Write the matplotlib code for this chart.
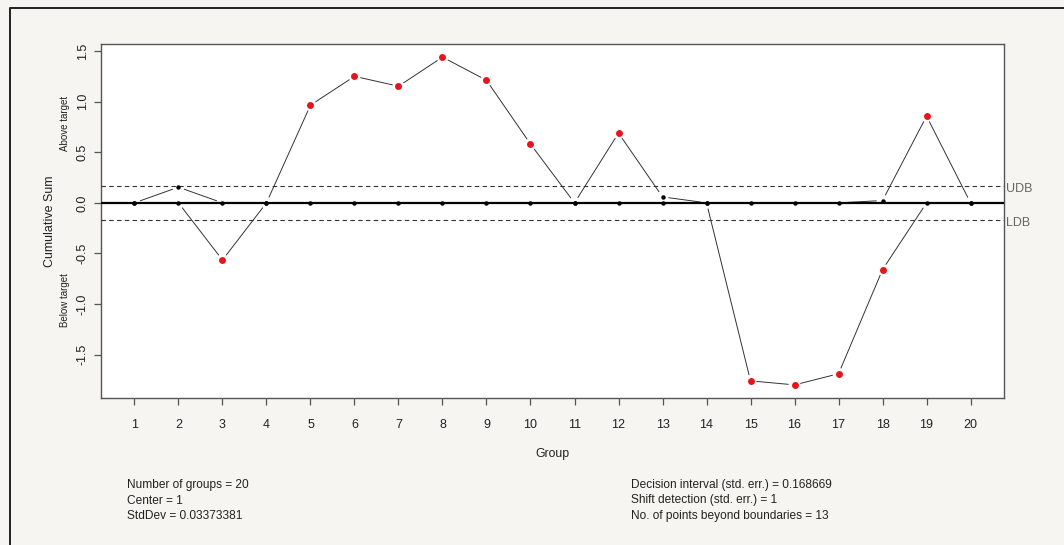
import matplotlib
matplotlib.use("Agg")
import matplotlib.pyplot as plt
from matplotlib.lines import Line2D
from matplotlib.transforms import offset_copy
import numpy as np

plt.rcParams['font.family'] = ['Liberation Sans', 'DejaVu Sans']

# CUSUM statistics per group
groups = list(range(1, 21))
upper_cusum = [0, 0.155, 0, 0, 0.966, 1.251, 1.153, 1.441, 1.212, 0.581,
               0, 0.69, 0.059, 0, 0, 0, 0, 0.023, 0.857, 0]
lower_cusum = [0, 0, -0.565, 0, 0, 0, 0, 0, 0, 0,
               0, 0, 0, 0, -1.76, -1.80, -1.69, -0.66, 0, 0]
decision_interval = 0.168669
stats_left = ["Number of groups = 20", "Center = 1", "StdDev = 0.03373381"]
stats_right = ["Decision interval (std. err.) = 0.168669",
               "Shift detection (std. err.) = 1",
               "No. of points beyond boundaries = 13"]

W, H = 1064, 545
fig = plt.figure(figsize=(W / 100, H / 100), dpi=100)
fig.patch.set_facecolor('#f7f5f2')

# outer frame (top and left edges)
fig.add_artist(Line2D([10 / W, 10 / W, 1.0], [0.0, 1 - 8 / H, 1 - 8 / H],
                      transform=fig.transFigure, color='#222222', lw=1.4))

ax = fig.add_axes([101 / W, 1 - 398 / H, (1004 - 101) / W, (398 - 44) / H])
ax.set_facecolor('white')

x = np.array(groups)
up = np.array(upper_cusum)
lo = np.array(lower_cusum)

ymin = min(lo.min(), -decision_interval)
ymax = max(up.max(), decision_interval)
pad = 0.04 * (ymax - ymin)
ax.set_ylim(ymin - pad, ymax + pad)
ax.set_xlim(1 - 0.04 * 19, 20 + 0.04 * 19)

line_col = '#333333'


def broken_line(xs, ys):
    # line segments that stop short of each point
    for i in range(len(xs) - 1):
        ax.annotate('', xy=(xs[i + 1], ys[i + 1]), xytext=(xs[i], ys[i]),
                    arrowprops=dict(arrowstyle='-', color=line_col, lw=0.7,
                                    shrinkA=4.5, shrinkB=4.5),
                    zorder=2)


broken_line(x, up)
broken_line(x, lo)

ax.axhline(0, color='black', lw=1.6, zorder=3)
for b in (decision_interval, -decision_interval):
    ax.axhline(b, color=line_col, lw=0.8, ls=(0, (4, 3)), zorder=3)

ok_up = up <= decision_interval
ok_lo = lo >= -decision_interval
ax.plot(x[ok_up], up[ok_up], 'o', color='black', ms=3.2, mew=0, zorder=4)
ax.plot(x[ok_lo], lo[ok_lo], 'o', color='black', ms=3.2, mew=0, zorder=4)
ax.plot(x[~ok_up], up[~ok_up], 'o', color='#e8141b', ms=5, mew=0, zorder=5)
ax.plot(x[~ok_lo], lo[~ok_lo], 'o', color='#e8141b', ms=5, mew=0, zorder=5)

for s in ax.spines.values():
    s.set_color('#555555')
    s.set_linewidth(1.0)

ax.set_xticks(groups)
ax.set_xticklabels([str(g) for g in groups])
yt = [-1.5, -1.0, -0.5, 0.0, 0.5, 1.0, 1.5]
ax.set_yticks(yt)
ax.set_yticklabels([f"{v:.1f}" for v in yt])
ax.tick_params(axis='both', direction='out', length=5, width=0.9,
               color='#555555', labelsize=9, labelcolor='#222222')
ax.tick_params(axis='x', pad=10)
ax.tick_params(axis='y', pad=8)
for lab in ax.get_yticklabels():
    lab.set_rotation(90)
    lab.set_va('center')
    lab.set_ha('center')

ax.set_xlabel('Group', fontsize=8.8, color='#222222', labelpad=12)

fig.text(50 / W, 1 - 221 / H, 'Cumulative Sum', rotation=90, fontsize=9,
         color='#222222', ha='center', va='center')
lo_lim, hi_lim = ax.get_ylim()
side_tr = offset_copy(ax.get_yaxis_transform(), fig=fig, x=-36, y=0,
                      units='dots')
ax.text(0, max(hi_lim / 2, decision_interval), 'Above target',
        transform=side_tr, rotation=90, fontsize=7,
        color='#222222', ha='center', va='center')
ax.text(0, min(lo_lim / 2, -decision_interval), 'Below target',
        transform=side_tr, rotation=90, fontsize=7,
        color='#222222', ha='center', va='center')
bound_tr = offset_copy(ax.get_yaxis_transform(), fig=fig, x=2, y=-3,
                       units='dots')
ax.text(1.0, decision_interval, 'UDB', transform=bound_tr,
        fontsize=9, color='#666666', ha='left', va='center')
ax.text(1.0, -decision_interval, 'LDB', transform=bound_tr,
        fontsize=9, color='#666666', ha='left', va='center')

for i, s in enumerate(stats_left):
    fig.text(127 / W, 1 - (485 + 15.5 * i) / H, s, fontsize=8.6,
             color='#222222', ha='left', va='center')
for i, s in enumerate(stats_right):
    fig.text(631 / W, 1 - (485 + 15.5 * i) / H, s, fontsize=8.6,
             color='#222222', ha='left', va='center')

fig.savefig('out.png', dpi=100, facecolor=fig.get_facecolor())
